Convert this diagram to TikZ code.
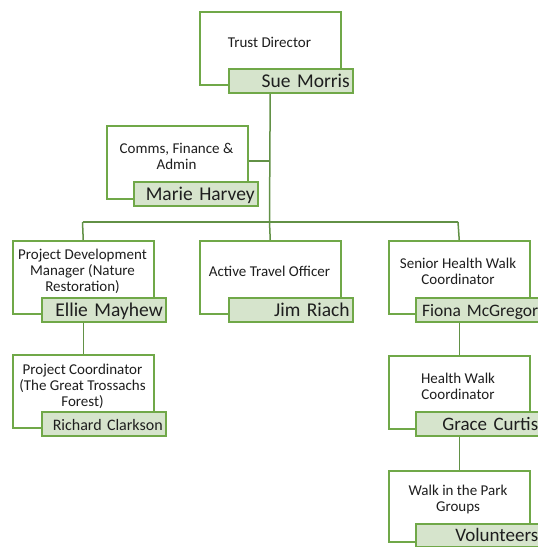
\documentclass[tikz,border=0pt]{standalone}
\usepackage{fontspec}
\setmainfont{Carlito}
\definecolor{boxgreen}{RGB}{112,168,72}
\definecolor{linegreen}{RGB}{98,145,70}
\definecolor{namefill}{RGB}{214,228,204}
\definecolor{txt}{RGB}{30,30,30}
\tikzset{
  rolebox/.style={draw=boxgreen, line width=1.5pt, fill=white, minimum width=141pt, minimum height=73pt, inner sep=0pt, anchor=north west},
  roletext/.style={align=center, text=txt, font=\fontsize{15}{16}\selectfont, inner sep=0pt},
  namebox/.style={draw=boxgreen, line width=1.5pt, fill=namefill, minimum width=124pt, minimum height=24pt, inner xsep=3pt, inner ysep=0pt, text width=118pt, align=right, text height=19pt, text depth=5pt, text=txt, anchor=north west, font=\fontsize{19.5}{20}\selectfont},
  conn/.style={draw=linegreen, line width=1.5pt}
}
\begin{document}
\begin{tikzpicture}[x=1pt,y=-1pt]
\useasboundingbox (0,0) rectangle (538,547);
\clip (0,0) rectangle (538,547);
\coordinate (busL) at (82.5,222);
\coordinate (busR) at (458,222);
\coordinate (busM) at (269.5,222);
\coordinate (cj) at (269.5,161);
% boxes
\node[rolebox] (td) at (199,11) {};
\node[rolebox] (cf) at (106,125) {};
\node[rolebox] (pd) at (12,240) {};
\node[rolebox] (at) at (199,240) {};
\node[rolebox] (sh) at (388,240) {};
\node[rolebox] (pc) at (12,354) {};
\node[rolebox] (hw) at (388,355) {};
\node[rolebox, minimum height=71pt] (wp) at (388,470) {};
% connectors
\draw[conn] (td.south) -- (busM);
\draw[conn] (cf.east |- cj) -- (cj);
\draw[conn] (busL) -- (busR);
\draw[conn] (busL) -- (pd.north);
\draw[conn] (busM) -- (at.north);
\draw[conn] (busR) -- (sh.north);
% role texts
\node[roletext] (tdr) at (269.5,42.5) {Trust Director};
\node[roletext] (cfr) at (176.5,156) {Comms, Finance \&\\Admin};
\node[roletext] (pdr) at (82.5,271) {Project Development\\Manager (Nature\\Restoration)};
\node[roletext] (atr) at (269.5,271) {Active Travel Officer};
\node[roletext] (shr) at (458,271) {Senior Health Walk\\Coordinator};
\node[roletext] (pcr) at (82.5,386) {Project Coordinator\\(The Great Trossachs\\Forest)};
\node[roletext] (hwr) at (458,386) {Health Walk\\Coordinator};
\node[roletext] (wpr) at (458,499) {Walk in the Park\\Groups};
% name boxes
\node[namebox] (tdn) at (228,68) {Sue Morris};
\node[namebox] (cfn) at (133,181) {Marie Harvey};
\node[namebox] (pdn) at (41,297) {Ellie Mayhew};
\node[namebox] (atn) at (228,297) {Jim Riach};
\node[namebox, font=\fontsize{17.5}{20}\selectfont, inner xsep=0pt, text width=121pt] (shn) at (415,297) {Fiona McGregor};
\node[namebox, font=\fontsize{16}{20}\selectfont] (pcn) at (41,411) {Richard Clarkson};
\node[namebox, font=\fontsize{19}{20}\selectfont, inner xsep=0pt, text width=121pt] (hwn) at (415,411) {Grace Curtis};
\node[namebox, font=\fontsize{19}{20}\selectfont, inner xsep=0pt, text width=121pt, minimum height=23pt, text height=18pt, text depth=5pt] (wpn) at (415,523) {Volunteers};
% lower connectors
\draw[conn] (pdn.south -| pd.south) -- (pc.north);
\draw[conn] (shn.south -| sh.south) -- (hw.north);
\draw[conn] (hwn.south -| hw.south) -- (wp.north);
\end{tikzpicture}
\end{document}
